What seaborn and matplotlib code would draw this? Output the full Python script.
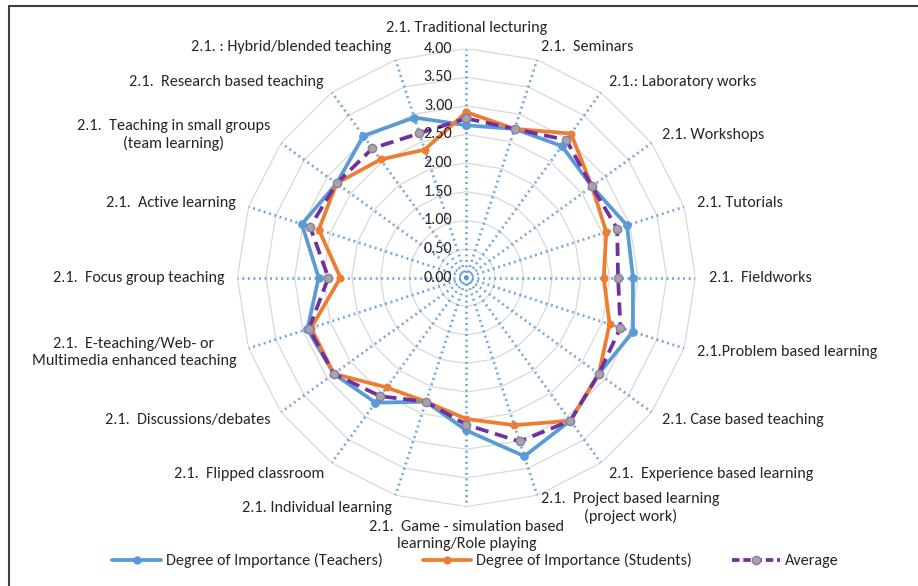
import numpy as np
import pandas as pd
import matplotlib
matplotlib.use("Agg")
import matplotlib.pyplot as plt
import matplotlib.transforms as mtransforms
from matplotlib import font_manager
from matplotlib.lines import Line2D
import seaborn as sns

categories = [
    "2.1. Traditional lecturing",
    "2.1.  Seminars",
    "2.1.: Laboratory works",
    "2.1. Workshops",
    "2.1. Tutorials",
    "2.1.  Fieldworks",
    "2.1.Problem based learning",
    "2.1. Case based teaching",
    "2.1.  Experience based learning",
    "2.1.  Project based learning\n(project work)",
    "2.1.  Game - simulation based\nlearning/Role playing",
    "2.1. Individual learning",
    "2.1.  Flipped classroom",
    "2.1.  Discussions/debates",
    "2.1.  E-teaching/Web- or\nMultimedia enhanced teaching",
    "2.1.  Focus group teaching",
    "2.1.  Active learning",
    "2.1.  Teaching in small groups\n(team learning)",
    "2.1.  Research based teaching",
    "2.1. : Hybrid/blended teaching",
]
teachers = [2.66, 2.73, 2.84, 2.71, 2.95, 2.91, 3.06, 2.86, 3.09, 3.28,
            2.67, 2.28, 2.70, 2.86, 2.92, 2.58, 3.02, 2.80, 3.06, 2.94]
students = [2.89, 2.73, 3.11, 2.71, 2.57, 2.40, 2.63, 2.86, 3.09, 2.71,
            2.47, 2.28, 2.37, 2.86, 2.85, 2.20, 2.71, 2.80, 2.55, 2.35]
average = [2.78, 2.73, 2.97, 2.71, 2.77, 2.65, 2.83, 2.86, 3.09, 3.01,
           2.57, 2.28, 2.56, 2.86, 2.89, 2.41, 2.87, 2.80, 2.79, 2.65]
series_names = ["Degree of Importance (Teachers)",
                "Degree of Importance (Students)",
                "Average"]
r_ticks = [0.0, 0.5, 1.0, 1.5, 2.0, 2.5, 3.0, 3.5, 4.0]

sns.set_theme(style="white")


def pick_font(names):
    for n in names:
        try:
            font_manager.findfont(n, fallback_to_default=False)
            return n
        except Exception:
            continue
    return "DejaVu Sans"


font = pick_font(["Carlito", "Liberation Sans Narrow", "Open Sans", "Lato"])
plt.rcParams["font.family"] = [font, "DejaVu Sans"]

df = pd.DataFrame({"category": categories,
                   series_names[0]: teachers,
                   series_names[1]: students,
                   series_names[2]: average})
n = len(categories)
df["theta"] = np.arange(n) * 2 * np.pi / n
closed = pd.concat([df, df.iloc[[0]]], ignore_index=True)

fig = plt.figure(figsize=(9.18, 5.86), dpi=100)
ax = fig.add_axes([0.2585, 0.1355, 0.499, 0.7816], projection="polar")
ax.set_theta_zero_location("N")
ax.set_theta_direction(-1)
ax.set_ylim(0, 4)
ax.grid(False)
ax.spines["polar"].set_visible(False)
ax.set_xticks([])
ax.set_yticks([])
ax.patch.set_alpha(0)

# polygon gridlines
thetas_c = closed["theta"].to_numpy()
for rv in r_ticks[1:]:
    ax.plot(thetas_c, [rv] * len(thetas_c), color="#D9D9D9", lw=0.9, zorder=1)
# dotted spokes
for th in df["theta"]:
    ax.plot([th, th], [0, 4], color="#5B9BD5", lw=2.0,
            linestyle=(0, (0.7, 1.3)), zorder=1.5, alpha=0.85)

text_color = "#262626"
fs = 11.6

sns.lineplot(data=closed, x="theta", y=series_names[0], sort=False, ax=ax,
             color="#5B9BD5", lw=2.7, marker="o", markersize=5.5,
             markeredgecolor="#5B9BD5", zorder=3, estimator=None)
sns.lineplot(data=closed, x="theta", y=series_names[1], sort=False, ax=ax,
             color="#ED7D31", lw=2.7, marker="o", markersize=5,
             markeredgecolor="#ED7D31", zorder=4, estimator=None)
sns.lineplot(data=closed, x="theta", y=series_names[2], sort=False, ax=ax,
             color="#7030A0", lw=2.7, linestyle=(0, (3.5, 1.8)), marker="o",
             markersize=6, markerfacecolor="#A5A5A5",
             markeredgecolor="#8E7CA8", markeredgewidth=1.0,
             zorder=5, estimator=None)
ax.set_xlabel("")
ax.set_ylabel("")
ax.set_ylim(0, 4)

# radial tick labels
off = mtransforms.offset_copy(ax.transData, fig=fig, x=-14, y=0, units="dots")
for v in r_ticks:
    ax.text(0, v, f"{v:.2f}", transform=off, ha="right", va="center",
            fontsize=fs, color=text_color, zorder=6)

# category labels
for th, lab in zip(df["theta"], df["category"]):
    s = np.sin(th)
    c = np.cos(th)
    if abs(s) < 0.01:
        ha = "center"
        va = "bottom" if c > 0 else "top"
    else:
        ha = "left" if s > 0 else "right"
        va = "center"
    ax.text(th, 4.23, lab, ha=ha, va=va, multialignment="center",
            fontsize=fs, color=text_color, linespacing=1.25)

handles = [
    Line2D([], [], color="#5B9BD5", lw=2.7, marker="o", markersize=5),
    Line2D([], [], color="#ED7D31", lw=2.7, marker="o", markersize=5),
    Line2D([], [], color="#7030A0", lw=2.7, linestyle=(0, (2, 1)), marker="o",
           markersize=6, markerfacecolor="#A5A5A5", markeredgecolor="#8E7CA8"),
]
fig.legend(handles, series_names, loc="center", bbox_to_anchor=(0.518, 0.043),
           ncol=3, frameon=False, fontsize=fs, handlelength=3.0,
           columnspacing=2.5, handletextpad=0.3, labelcolor=text_color)

# chart frame (top & left visible)
fig.add_artist(Line2D([9 / 918, 9 / 918], [0, 1 - 6 / 586], color="#404040",
                      lw=1.5, transform=fig.transFigure))
fig.add_artist(Line2D([9 / 918, 1], [1 - 6 / 586, 1 - 6 / 586], color="#404040",
                      lw=1.5, transform=fig.transFigure))

fig.savefig("out.png", dpi=100)
